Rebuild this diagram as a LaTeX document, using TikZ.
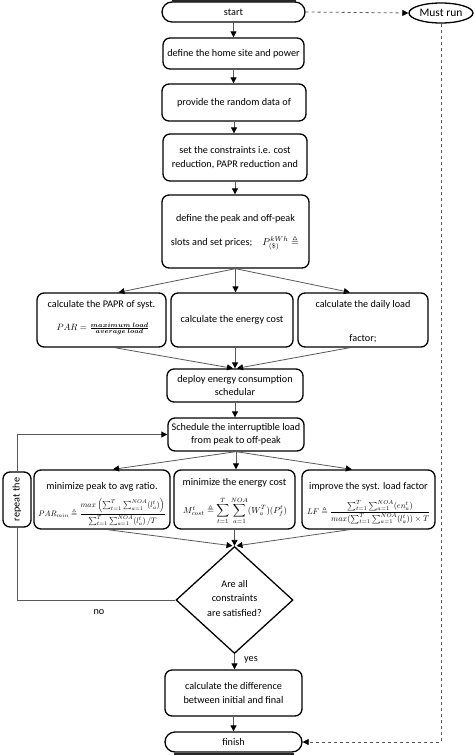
\documentclass[tikz,border=0pt]{standalone}
\usepackage{amsmath,amssymb}
\usepackage{graphicx}
\usepackage{fontspec}
\setmainfont{Carlito}
\usetikzlibrary{arrows.meta,shapes.geometric,shapes.misc,calc}
\begin{document}
\begin{tikzpicture}[x=1pt,y=-1pt,
  every node/.style={font=\fontsize{10.2}{13.5}\selectfont, inner sep=0pt, align=center},
  box/.style={draw, rounded corners=7pt, line width=1.3pt},
  term/.style={draw, rounded rectangle, line width=1.3pt},
  line/.style={draw=gray!70!black, line width=0.8pt},
  arr/.style={line, -{Triangle[length=6pt,width=6pt,color=black]}},
  dasharr/.style={arr, dashed},
]
\useasboundingbox (0,0) rectangle (474,755);
\clip (0,0) rectangle (474,755);

% terminals
\node[term, minimum width=143pt, minimum height=20pt] (start) at (233.5,12) {start};
\fill[gray!30!black] (172,0) rectangle (296,2.2);
\node[draw, ellipse, line width=1.3pt, minimum width=64pt, minimum height=20pt, font=\fontsize{11.5}{13}\selectfont] (must) at (441,13) {Must run};

% main column
\node[box, minimum width=141pt, minimum height=31pt] (b1) at (233.5,53.5) {define the home site and power};
\node[box, minimum width=144pt, minimum height=37pt] (b2) at (234,102.5) {provide the random data of};
\node[box, minimum width=144pt, minimum height=47pt] (b3) at (235,157.5) {set the constraints i.e. cost\\reduction, PAPR reduction and};
\node[box, minimum width=147pt, minimum height=73pt] (b4) at (235.5,231.5) {};
\node (b4a) at (235.5,219) {define the peak and off-peak};
\node (b4b) at (235,243) {slots and set prices;\quad $P^{kWh}_{(\$)}\triangleq$};

% row 1
\node[box, minimum width=129pt, minimum height=54pt] (b5) at (101.5,320) {};
\node (b5a) at (101.5,305) {calculate the PAPR of syst.};
\node (b5b) at (103,329) {\resizebox{93pt}{!}{$PAR=\frac{\boldsymbol{maximum\ load}}{\boldsymbol{average\ load}}$}};
\node[box, minimum width=122pt, minimum height=54pt] (b6) at (232,320) {calculate the energy cost};
\node[box, minimum width=130pt, minimum height=54pt] (b7) at (363,320) {};
\node (b7a) at (363,305) {calculate the daily load};
\node (b7b) at (363,339) {factor;};

\node[box, minimum width=136pt, minimum height=33pt] (b8) at (235,385.5) {deploy energy consumption\\schedular};
\node[box, minimum width=136pt, minimum height=33pt] (b9) at (236,434.5) {Schedule the interruptible load\\from peak to off-peak};

% row 2
\node[box, minimum width=55pt, minimum height=28pt, rotate=90] (rep) at (17,499.5) {repeat the};
\node[box, minimum width=136pt, minimum height=59pt] (b10) at (102,499.5) {};
\node (b10a) at (102,487) {minimize peak to avg ratio.};
\node (b10b) at (102,512) {\resizebox{127pt}{!}{$PAR_{min}\triangleq\dfrac{max\left(\sum_{t=1}^{T}\sum_{a=1}^{NOA}(l_a^t)\right)}{\sum_{t=1}^{T}\sum_{a=1}^{NOA}(l_a^t)\,/T}$}};
\node[box, minimum width=121pt, minimum height=59pt] (b11) at (234.5,499.5) {};
\node (b11a) at (234.5,483) {minimize the energy cost};
\node (b11b) at (235,511) {\resizebox{104pt}{!}{$M^t_{cost}\triangleq\displaystyle\sum_{t=1}^{T}\sum_{a=1}^{NOA}(W_a^T)(P_f^t)$}};
\node[box, minimum width=133pt, minimum height=59pt] (b12) at (368.5,499.5) {};
\node (b12a) at (368.5,487) {improve the syst. load factor};
\node (b12b) at (368.5,512) {\resizebox{123pt}{!}{$LF\triangleq\dfrac{\sum_{t=1}^{T}\sum_{a=1}^{NOA}(en_a^t)}{max(\sum_{t=1}^{T}\sum_{a=1}^{NOA}(l_a^t))\times T}$}};

% decision
\node[draw, diamond, line width=1.3pt, minimum width=117pt, minimum height=107pt] (dia) at (234.5,600) {};
\node[font=\fontsize{10.2}{14.5}\selectfont] (diat) at (234.5,598) {Are all\\constraints\\are satisfied?};

\node[box, minimum width=137pt, minimum height=46pt] (b13) at (233.5,693) {calculate the difference\\between initial and final};
\node[term, minimum width=137pt, minimum height=20pt] (finish) at (233.5,742) {finish};
\fill[gray!30!black] (174,752.6) rectangle (294,755);

% connectors
\draw[arr] (start.south) -- (start.south |- b1.north);
\draw[arr] (b1.south) -- (b1.south |- b2.north);
\draw[arr] (b2.south) -- (b2.south |- b3.north);
\draw[arr] (b3.south) -- (b3.south |- b4.north);
\draw[arr] (b4.south) -- ($(b5.north west)!0.63!(b5.north east)$);
\draw[arr] (b4.south) -- (b4.south |- b6.north);
\draw[arr] (b4.south) -- ($(b7.north west)!0.4!(b7.north east)$);
\draw[arr] ($(b5.south west)!0.6!(b5.south east)$) -- ($(b8.north)+(-2,0)$);
\draw[arr] (b6.south -| b8.north) -- (b8.north);
\draw[arr] ($(b7.south west)!0.4!(b7.south east)$) -- ($(b8.north)+(2,0)$);
\draw[arr] (b8.south) -- (b8.south |- b9.north);
\draw[arr] (b9.south) -- ($(b10.north west)!0.58!(b10.north east)$);
\draw[arr] (b9.south) -- (b9.south |- b11.north);
\draw[arr] (b9.south) -- ($(b12.north west)!0.376!(b12.north east)$);
\draw[arr] ($(b10.south west)!0.54!(b10.south east)$) -- ($(dia.north)+(-2,0)$);
\draw[arr] (b11.south -| dia.north) -- (dia.north);
\draw[arr] ($(b12.south west)!0.36!(b12.south east)$) -- ($(dia.north)+(2,0)$);
\draw[arr] (rep.east) |- (b9.west);
\draw[line] (dia.west) -| (rep.west);
\node (no) at (99,612) {no};
\draw[arr] (dia.south) -- (dia.south |- b13.north);
\node (yes) at (251,660) {yes};
\draw[arr] (b13.south) -- (b13.south |- finish.north);
\draw[dasharr] (start.east) -- (must.west);
\draw[dasharr] (must.south) |- (finish.east);
\end{tikzpicture}
\end{document}
